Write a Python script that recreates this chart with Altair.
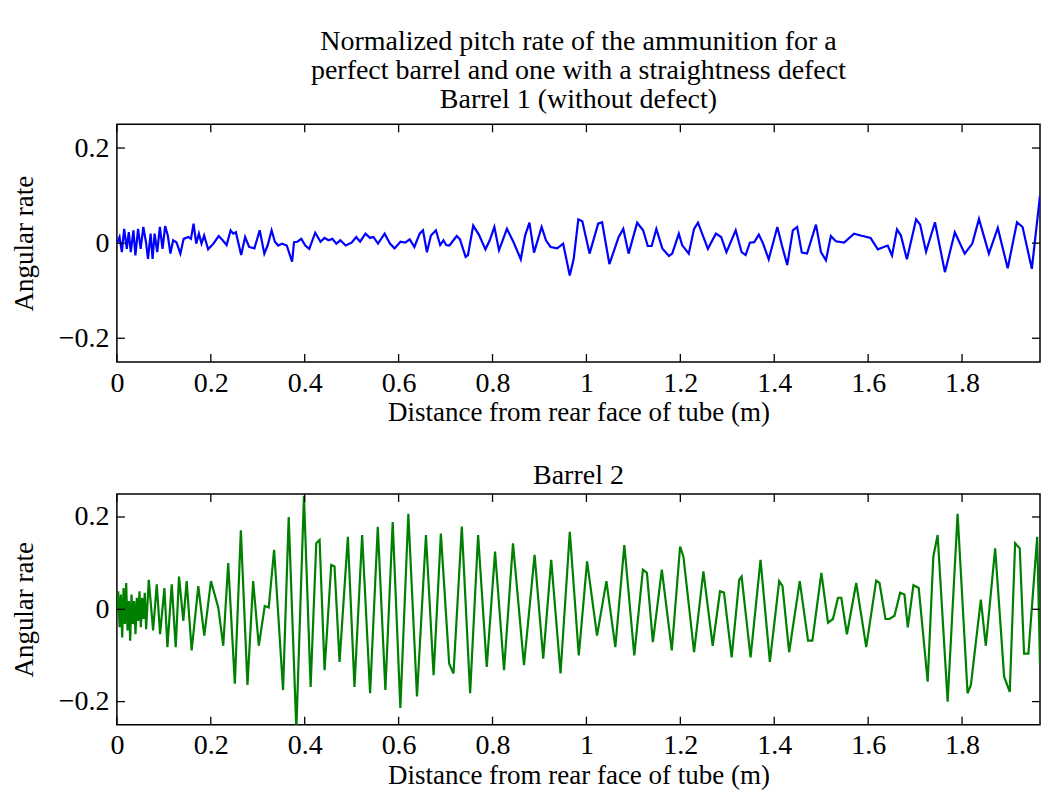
import altair as alt
import pandas as pd

FONT = "Liberation Serif"

# Barrel 1 (without defect): distance (m) and normalized angular rate
X1 = [0.000, 0.0056, 0.0106, 0.0155, 0.0211, 0.0253, 0.0296, 0.0352, 0.0394, 0.0451,
      0.0507, 0.0563, 0.0620, 0.0662, 0.0718, 0.0760, 0.0803, 0.0859, 0.0915, 0.0972,
      0.1028, 0.1084, 0.1140, 0.1197, 0.1267, 0.1352, 0.1422, 0.1521, 0.1577, 0.1633,
      0.1690, 0.1746, 0.1802, 0.1858, 0.1943, 0.2056, 0.2168, 0.2253, 0.2337, 0.2422,
      0.2478, 0.2534, 0.2591, 0.2647, 0.2731, 0.2816, 0.2929, 0.3041, 0.3140, 0.3210,
      0.3295, 0.3365, 0.3435, 0.3520, 0.3618, 0.3731, 0.3773, 0.3844, 0.3928, 0.4013,
      0.4097, 0.4224, 0.4337, 0.4421, 0.4505, 0.4590, 0.4674, 0.4759, 0.4872, 0.4998,
      0.5097, 0.5181, 0.5294, 0.5392, 0.5463, 0.5561, 0.5702, 0.5815, 0.5913, 0.6040,
      0.6139, 0.6237, 0.6336, 0.6448, 0.6519, 0.6603, 0.6688, 0.6794, 0.6885, 0.6955,
      0.7011, 0.7082, 0.7237, 0.7307, 0.7427, 0.7477, 0.7589, 0.7709, 0.7849, 0.7941,
      0.8039, 0.8138, 0.8307, 0.8448, 0.8602, 0.8694, 0.8786, 0.8884, 0.9046, 0.9138,
      0.9236, 0.9377, 0.9504, 0.9645, 0.9729, 0.9827, 0.9912, 1.0067, 1.0250, 1.0334,
      1.0489, 1.0687, 1.0785, 1.0898, 1.1081, 1.1207, 1.1306, 1.1390, 1.1489, 1.1616,
      1.1757, 1.1827, 1.1968, 1.2038, 1.2179, 1.2292, 1.2376, 1.2587, 1.2757, 1.2869,
      1.2982, 1.3179, 1.3305, 1.3390, 1.3481, 1.3573, 1.3671, 1.3763, 1.3882, 1.4066,
      1.4164, 1.4277, 1.4396, 1.4488, 1.4587, 1.4699, 1.4889, 1.4995, 1.5101, 1.5206,
      1.5312, 1.5488, 1.5699, 1.5840, 1.6051, 1.6206, 1.6332, 1.6417, 1.6508, 1.6614,
      1.6698, 1.6825, 1.7022, 1.7107, 1.7233, 1.7423, 1.7635, 1.7846, 1.8057, 1.8219,
      1.8360, 1.8571, 1.8761, 1.8972, 1.9170, 1.9289, 1.9486, 1.9660]
Y1 = [-0.001, 0.013, -0.019, 0.030, -0.012, 0.023, -0.019, 0.027, -0.026, 0.030,
      -0.012, 0.034, 0.002, -0.033, 0.020, -0.033, 0.020, -0.019, 0.034, -0.012,
      0.036, 0.016, -0.022, 0.006, 0.002, -0.022, 0.009, 0.013, 0.009, 0.041,
      -0.001, 0.020, -0.001, 0.016, -0.013, -0.001, 0.015, 0.006, -0.004, 0.027,
      0.020, 0.023, -0.001, -0.025, 0.013, -0.008, -0.011, 0.027, -0.022, -0.005,
      0.027, 0.003, -0.005, -0.001, -0.005, -0.039, 0.002, 0.003, 0.009, -0.005,
      -0.012, 0.022, 0.003, 0.011, 0.006, 0.009, -0.001, 0.006, -0.005, 0.001,
      0.013, 0.003, 0.020, 0.011, 0.013, -0.001, 0.020, -0.001, -0.011, 0.003,
      0.001, 0.008, -0.008, 0.020, 0.027, -0.019, 0.016, 0.027, -0.004, 0.006,
      -0.004, -0.005, 0.015, 0.008, -0.029, -0.025, 0.037, 0.018, -0.013, 0.006,
      0.034, -0.015, 0.030, 0.002, -0.034, 0.016, 0.043, -0.020, 0.034, 0.006,
      -0.008, -0.011, -0.001, -0.068, -0.033, 0.050, 0.046, -0.022, 0.041, 0.044,
      -0.044, 0.013, 0.030, -0.022, 0.043, 0.027, -0.006, -0.006, 0.030, -0.011,
      -0.027, -0.022, 0.020, -0.004, -0.022, 0.030, 0.043, -0.012, 0.020, 0.013,
      -0.019, 0.027, -0.019, -0.025, 0.001, 0.002, 0.018, -0.001, -0.034, 0.034,
      -0.005, -0.046, 0.027, 0.034, -0.020, -0.022, 0.039, -0.019, -0.036, 0.015,
      0.004, 0.001, 0.020, 0.016, 0.011, -0.013, -0.008, -0.005, -0.026, 0.029,
      0.016, -0.034, 0.050, 0.039, -0.018, 0.044, -0.061, 0.023, -0.022, -0.001,
      0.051, -0.022, 0.032, -0.053, 0.044, 0.034, -0.054, 0.100]

# Barrel 2 (with straightness defect)
X2 = [0.000, 0.0028, 0.0057, 0.0085, 0.0113, 0.0142, 0.0170, 0.0198, 0.0226, 0.0255,
      0.0283, 0.0311, 0.0340, 0.0368, 0.0396, 0.0425, 0.0453, 0.0481, 0.0510, 0.0538,
      0.0566, 0.0594, 0.0623, 0.0679, 0.0771, 0.0849, 0.0920, 0.1012, 0.1076, 0.1168,
      0.1253, 0.1323, 0.1415, 0.1486, 0.1592, 0.1734, 0.1861, 0.2003, 0.2159, 0.2265,
      0.2371, 0.2512, 0.2640, 0.2781, 0.2902, 0.3022, 0.3149, 0.3234, 0.3348, 0.3539,
      0.3659, 0.3822, 0.3984, 0.4126, 0.4246, 0.4317, 0.4423, 0.4565, 0.4635, 0.4742,
      0.4919, 0.5060, 0.5223, 0.5393, 0.5556, 0.5718, 0.5874, 0.6037, 0.6207, 0.6391,
      0.6582, 0.6745, 0.6900, 0.7077, 0.7169, 0.7346, 0.7523, 0.7693, 0.7877, 0.8054,
      0.8245, 0.8436, 0.8670, 0.8896, 0.9080, 0.9250, 0.9448, 0.9646, 0.9837, 1.0014,
      1.0226, 1.0425, 1.0616, 1.0807, 1.1019, 1.1203, 1.1288, 1.1415, 1.1606, 1.1818,
      1.1995, 1.2066, 1.2293, 1.2491, 1.2689, 1.2845, 1.2930, 1.3093, 1.3255, 1.3305,
      1.3496, 1.3708, 1.3907, 1.4105, 1.4176, 1.4317, 1.4543, 1.4720, 1.4812, 1.5004,
      1.5145, 1.5251, 1.5357, 1.5428, 1.5548, 1.5746, 1.5959, 1.6171, 1.6242, 1.6369,
      1.6454, 1.6561, 1.6681, 1.6773, 1.6844, 1.6964, 1.7077, 1.7268, 1.7388, 1.7480,
      1.7693, 1.7905, 1.8117, 1.8188, 1.8400, 1.8506, 1.8705, 1.8896, 1.9016, 1.9130,
      1.9229, 1.9321, 1.9413, 1.9600, 1.9660]
Y2 = [0.000, 0.039, -0.039, 0.032, -0.061, 0.046, -0.032, 0.057, -0.046, 0.018,
      -0.068, 0.032, -0.032, 0.018, -0.054, 0.025, -0.025, 0.039, -0.039, 0.025,
      -0.021, 0.036, -0.043, 0.064, -0.046, 0.054, -0.054, 0.046, -0.082, 0.054,
      -0.082, 0.071, -0.025, 0.061, -0.089, 0.050, -0.057, 0.061, 0.004, -0.079,
      0.100, -0.161, 0.171, -0.164, 0.061, -0.079, 0.007, 0.004, 0.129, -0.175,
      0.200, -0.261, 0.246, -0.168, 0.143, 0.150, -0.132, 0.096, 0.093, -0.114,
      0.157, -0.168, 0.161, -0.182, 0.179, -0.175, 0.189, -0.214, 0.207, -0.189,
      0.161, -0.143, 0.164, -0.118, -0.139, 0.179, -0.182, 0.161, -0.125, 0.125,
      -0.132, 0.143, -0.121, 0.118, -0.107, 0.107, -0.139, 0.168, -0.100, 0.104,
      -0.057, 0.061, -0.082, 0.139, -0.100, 0.086, 0.079, -0.071, 0.086, -0.089,
      0.136, 0.114, -0.093, 0.082, -0.079, 0.039, 0.036, -0.104, 0.064, 0.071,
      -0.104, 0.107, -0.114, 0.061, 0.050, -0.093, 0.061, -0.068, -0.068, 0.079,
      -0.029, -0.021, 0.025, 0.025, -0.054, 0.057, -0.082, 0.062, 0.057, -0.021,
      -0.021, -0.014, 0.036, 0.032, -0.039, 0.052, 0.046, -0.157, 0.114, 0.161,
      -0.200, 0.207, -0.182, -0.164, 0.021, -0.079, 0.132, -0.146, -0.179, 0.143,
      0.132, -0.096, -0.096, 0.157, -0.120]

XTICKS = [0, 0.2, 0.4, 0.6, 0.8, 1.0, 1.2, 1.4, 1.6, 1.8]
YTICKS = [-0.2, 0, 0.2]
XMAX = 1.966
YDOM = [-0.25, 0.25]
XTITLE = "Distance from rear face of tube (m)"
YTITLE = "Angular rate"


def panel(xs, ys, color, title, w, h, title_offset):
    df = pd.DataFrame({"d": xs, "r": ys})
    xsc = alt.Scale(domain=[0, XMAX], nice=False, zero=False)
    ysc = alt.Scale(domain=YDOM, nice=False, zero=False)
    xax = alt.Axis(values=XTICKS, format="~g", title=XTITLE, ticks=False,
                   domain=False, grid=False, labelPadding=7, titlePadding=3,
                   labelFlush=False)
    yax = alt.Axis(values=YTICKS, format="~g", title=YTITLE, ticks=False,
                   domain=False, grid=False, labelPadding=8,
                   titlePadding=20, labelFlush=False)
    tick_len = 8
    line = alt.Chart(df).mark_line(color=color, strokeWidth=2.2, clip=True).encode(
        x=alt.X("d:Q", scale=xsc, axis=xax),
        y=alt.Y("r:Q", scale=ysc, axis=yax),
    )
    xt = pd.DataFrame({"d": XTICKS})
    yt = pd.DataFrame({"r": YTICKS})
    rule = dict(color="black", strokeWidth=1.3)
    bottom = alt.Chart(xt).mark_rule(**rule).encode(
        x=alt.X("d:Q", scale=xsc, axis=xax), y=alt.value(h), y2=alt.value(h - tick_len))
    top = alt.Chart(xt).mark_rule(**rule).encode(
        x=alt.X("d:Q", scale=xsc, axis=xax), y=alt.value(0), y2=alt.value(tick_len))
    left = alt.Chart(yt).mark_rule(**rule).encode(
        y=alt.Y("r:Q", scale=ysc, axis=yax), x=alt.value(0), x2=alt.value(tick_len))
    right = alt.Chart(yt).mark_rule(**rule).encode(
        y=alt.Y("r:Q", scale=ysc, axis=yax), x=alt.value(w), x2=alt.value(w - tick_len))
    return alt.layer(line, bottom, top, left, right).properties(
        width=w, height=h,
        title=alt.TitleParams(text=title, font=FONT, fontSize=28, fontWeight="normal",
                              color="black", lineHeight=29, anchor="middle",
                              frame="group", offset=title_offset),
    )


p1 = panel(X1, Y1, "#0000ff",
           ["Normalized pitch rate of the ammunition for a",
            "perfect barrel and one with a straightness defect",
            "Barrel 1 (without defect)"], 924, 238, 10)
p2 = panel(X2, Y2, "#008000", ["Barrel 2"], 924, 231, 3)

chart = alt.vconcat(p1, p2, spacing=34).properties(
    padding={"left": 1, "top": 18, "right": 0, "bottom": 0}
).configure_view(stroke="black", strokeWidth=1.5).configure_axis(
    labelFont=FONT, titleFont=FONT, labelFontSize=28, titleFontSize=27,
    labelColor="black", titleColor="black", titleFontWeight="normal"
)

chart.save("out.html", embed_options={"renderer": "svg", "actions": False})
